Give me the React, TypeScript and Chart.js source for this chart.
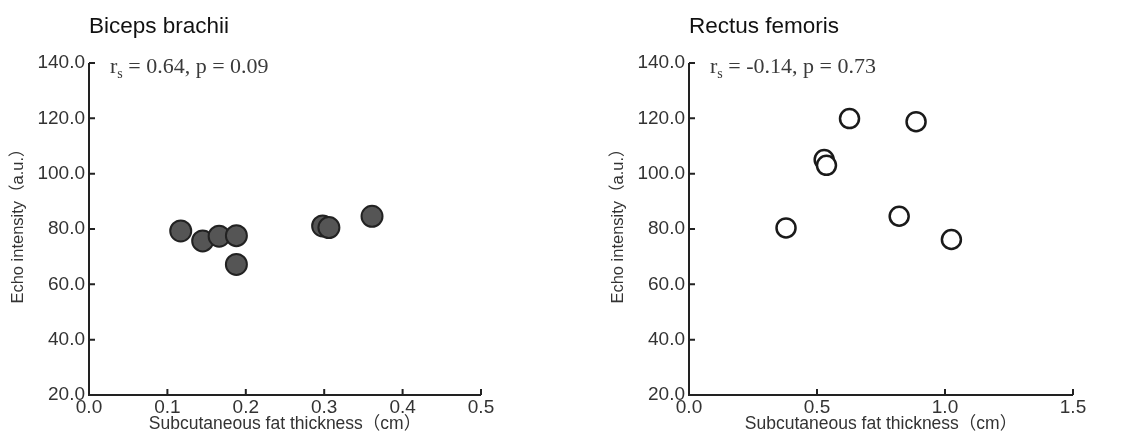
import React, { useEffect, useRef } from "react";
import { Chart, registerables } from "chart.js";
Chart.register(...registerables);

// ---- data ----
const bicepsFat = [0.117, 0.145, 0.166, 0.188, 0.188, 0.298, 0.306, 0.361];
const bicepsEcho = [79.3, 75.7, 77.4, 77.6, 67.2, 81.1, 80.5, 84.6];
const rectusFat = [0.379, 0.528, 0.537, 0.627, 0.887, 0.821, 1.025];
const rectusEcho = [80.4, 105.1, 103.0, 119.9, 118.8, 84.6, 76.2];
const yTickValues = [20, 40, 60, 80, 100, 120, 140];
const bicepsXTicks = [0, 0.1, 0.2, 0.3, 0.4, 0.5];
const rectusXTicks = [0, 0.5, 1.0, 1.5];
const titles = ["Biceps brachii", "Rectus femoris"];
const statTexts = [" = 0.64, p = 0.09", " = -0.14, p = 0.73"];
const xTitle = "Subcutaneous fat thickness（cm）";
const yTitle = "Echo intensity（a.u.）";

const SANS = "'Liberation Sans', Arial, 'Noto Sans CJK JP', sans-serif";
const SERIF = "'Liberation Serif', 'Times New Roman', serif";
const AXIS = "#222";

type PanelProps = {
  left: number;
  width: number;
  padLeft: number;
  padRight: number;
  title: string;
  stat: string;
  xs: number[];
  ys: number[];
  xTicks: number[];
  fill: string;
  stroke: string;
  radius: number;
  bw: number;
};

function Panel(p: PanelProps) {
  const ref = useRef<HTMLCanvasElement | null>(null);
  useEffect(() => {
    if (!ref.current) return;
    const inward = {
      id: "inwardTicks",
      afterDatasetsDraw(chart: any) {
        const { ctx, chartArea } = chart;
        const xs = chart.scales.x;
        const ys = chart.scales.y;
        ctx.save();
        ctx.strokeStyle = AXIS;
        ctx.lineWidth = 2;
        ctx.beginPath();
        ctx.moveTo(chartArea.left, chartArea.top);
        ctx.lineTo(chartArea.left, chartArea.bottom);
        ctx.lineTo(chartArea.right, chartArea.bottom);
        for (const v of yTickValues) {
          const y = ys.getPixelForValue(v);
          ctx.moveTo(chartArea.left, y);
          ctx.lineTo(chartArea.left + 6, y);
        }
        for (const v of p.xTicks) {
          const x = xs.getPixelForValue(v);
          ctx.moveTo(x, chartArea.bottom);
          ctx.lineTo(x, chartArea.bottom - 6);
        }
        ctx.stroke();
        // y axis title
        ctx.save();
        ctx.translate(ys.left + 18, (chartArea.top + chartArea.bottom) / 2 - 7);
        ctx.rotate(-Math.PI / 2);
        ctx.fillStyle = "#333";
        ctx.font = `16.5px ${SANS}`;
        ctx.textAlign = "center";
        ctx.textBaseline = "middle";
        ctx.fillText(yTitle, 0, 0);
        ctx.restore();
        // annotation
        const tx = chartArea.left + 21;
        const ty = chartArea.top + 10;
        ctx.fillStyle = "#3a3a3a";
        ctx.textBaseline = "alphabetic";
        ctx.textAlign = "left";
        ctx.font = `22px ${SERIF}`;
        ctx.fillText("r", tx, ty);
        const rw = ctx.measureText("r").width;
        ctx.font = `14px ${SERIF}`;
        ctx.fillText("s", tx + rw, ty + 5);
        const sw = ctx.measureText("s").width;
        ctx.font = `22px ${SERIF}`;
        ctx.fillText(p.stat, tx + rw + sw, ty);
        ctx.restore();
      },
    };
    const chart = new Chart(ref.current, {
      type: "scatter",
      data: {
        datasets: [
          {
            data: p.xs.map((x, i) => ({ x, y: p.ys[i] })),
            backgroundColor: p.fill,
            borderColor: p.stroke,
            borderWidth: p.bw,
            pointRadius: p.radius,
            pointHoverRadius: p.radius,
            clip: false as any,
          },
        ],
      },
      options: {
        animation: false,
        responsive: false,
        events: [],
        layout: { padding: { left: p.padLeft, right: p.padRight, top: 0, bottom: 0 } },
        plugins: {
          legend: { display: false },
          tooltip: { enabled: false },
          title: {
            display: true,
            text: p.title,
            align: "start",
            fullSize: false,
            color: "#111",
            font: { family: SANS, size: 22.5, weight: "normal" as any, lineHeight: 1.2 },
            padding: { top: 13, bottom: 23 },
          },
        },
        scales: {
          x: {
            type: "linear",
            min: p.xTicks[0],
            max: p.xTicks[p.xTicks.length - 1],
            grid: { display: false, drawTicks: false },
            border: { display: false },
            afterBuildTicks: (s: any) => {
              s.ticks = p.xTicks.map((v) => ({ value: v }));
            },
            afterFit: (s: any) => {
              s.height = 42;
            },
            ticks: {
              padding: 1,
              color: "#333",
              font: { family: SANS, size: 19 },
              maxRotation: 0,
              autoSkip: false,
              callback: (v: any) => Number(v).toFixed(1),
            },
            title: {
              display: true,
              text: xTitle,
              color: "#333",
              font: { family: SANS, size: 17.5 },
              padding: { top: 0, bottom: 2 },
            },
          },
          y: {
            type: "linear",
            min: yTickValues[0],
            max: yTickValues[yTickValues.length - 1],
            grid: { display: false, drawTicks: false },
            border: { display: false },
            afterBuildTicks: (s: any) => {
              s.ticks = yTickValues.map((v) => ({ value: v }));
            },
            afterFit: (s: any) => {
              s.width = 89;
            },
            ticks: {
              padding: 4,
              color: "#333",
              font: { family: SANS, size: 19 },
              autoSkip: false,
              callback: (v: any) => Number(v).toFixed(1),
            },
            title: { display: false },
          },
        },
      },
      plugins: [inward],
    });
    return () => chart.destroy();
  }, []);
  return (
    <div style={{ position: "absolute", left: p.left, top: 0, width: p.width, height: 437 }}>
      <canvas ref={ref} width={p.width} height={437} style={{ width: p.width, height: 437, display: "block" }} />
    </div>
  );
}

export default function App() {
  return (
    <div style={{ position: "absolute", left: 0, top: 0, width: 1137, height: 437, background: "#fff" }}>
      <Panel
        left={0}
        width={565}
        padLeft={0}
        padRight={84}
        title={titles[0]}
        stat={statTexts[0]}
        xs={bicepsFat}
        ys={bicepsEcho}
        xTicks={bicepsXTicks}
        fill="#555555"
        stroke="#222222"
        radius={10.5}
        bw={2}
      />
      <Panel
        left={565}
        width={572}
        padLeft={35}
        padRight={64}
        title={titles[1]}
        stat={statTexts[1]}
        xs={rectusFat}
        ys={rectusEcho}
        xTicks={rectusXTicks}
        fill="#ffffff"
        stroke="#1a1a1a"
        radius={9.5}
        bw={2.5}
      />
    </div>
  );
}
